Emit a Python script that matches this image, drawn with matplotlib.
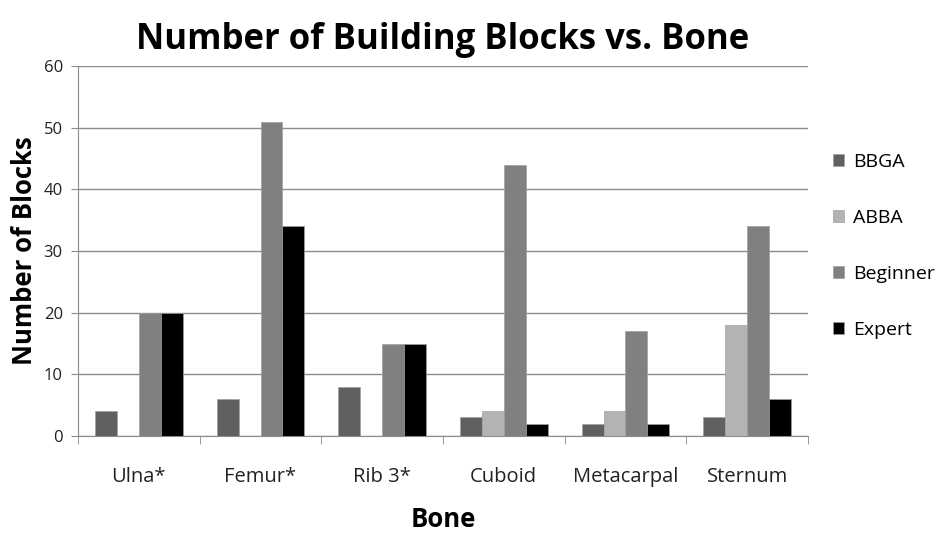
import numpy as np
import matplotlib
matplotlib.use("Agg")
import matplotlib.pyplot as plt

plt.rcParams["font.family"] = ["Open Sans", "DejaVu Sans"]

bones = ["Ulna*", "Femur*", "Rib 3*", "Cuboid", "Metacarpal", "Sternum"]
series = ["BBGA", "ABBA", "Beginner", "Expert"]
bbga = [4, 6, 8, 3, 2, 3]
abba = [0, 0, 0, 4, 4, 18]
beginner = [20, 51, 15, 44, 17, 34]
expert = [20, 34, 15, 2, 2, 6]
colors = ["#606060", "#b3b3b3", "#808080", "#000000"]

fig = plt.figure(figsize=(9.46, 5.33), dpi=100)
ax = fig.add_axes([0.0825, 0.182, 0.7715, 0.694])

x = np.arange(len(bones))
w = 0.18
for i, (vals, name) in enumerate(zip([bbga, abba, beginner, expert], series)):
    ax.bar(x + (i - 1.5) * w, vals, w, color=colors[i], label=name,
           edgecolor="#a0a0a0", linewidth=0.5, zorder=3)

ax.set_xlim(-0.5, len(bones) - 0.5)
ax.set_ylim(0, 60)
ax.set_yticks(range(0, 61, 10))
ax.yaxis.grid(True, color="#8c8c8c", linewidth=1, zorder=0)
ax.set_xticks(x)
ax.set_xticklabels(bones, fontsize=14.5, color="#222222")
ax.set_xticks(np.arange(-0.5, len(bones)), minor=True)
ax.tick_params(axis="x", which="major", length=0, pad=22)
ax.tick_params(axis="x", which="minor", length=6, color="#8c8c8c", direction="out")
ax.tick_params(axis="y", labelsize=12, labelcolor="#222222", length=5,
               color="#8c8c8c", direction="out", pad=6)
for s in ["top", "right"]:
    ax.spines[s].set_visible(False)
for s in ["left", "bottom"]:
    ax.spines[s].set_color("#8c8c8c")

ax.set_title("Number of Building Blocks vs. Bone", fontsize=25, fontweight="bold", pad=12)
ax.set_xlabel("Bone", fontsize=18.5, fontweight="bold", labelpad=14)
ax.set_ylabel("Number of Blocks", fontsize=18.5, fontweight="bold", labelpad=4)

ax.legend(loc="center left", bbox_to_anchor=(1.01, 0.514), frameon=False, fontsize=14,
          handlelength=0.6, handleheight=0.6, labelspacing=1.95, handletextpad=0.45)

fig.savefig("out.png", dpi=100)
